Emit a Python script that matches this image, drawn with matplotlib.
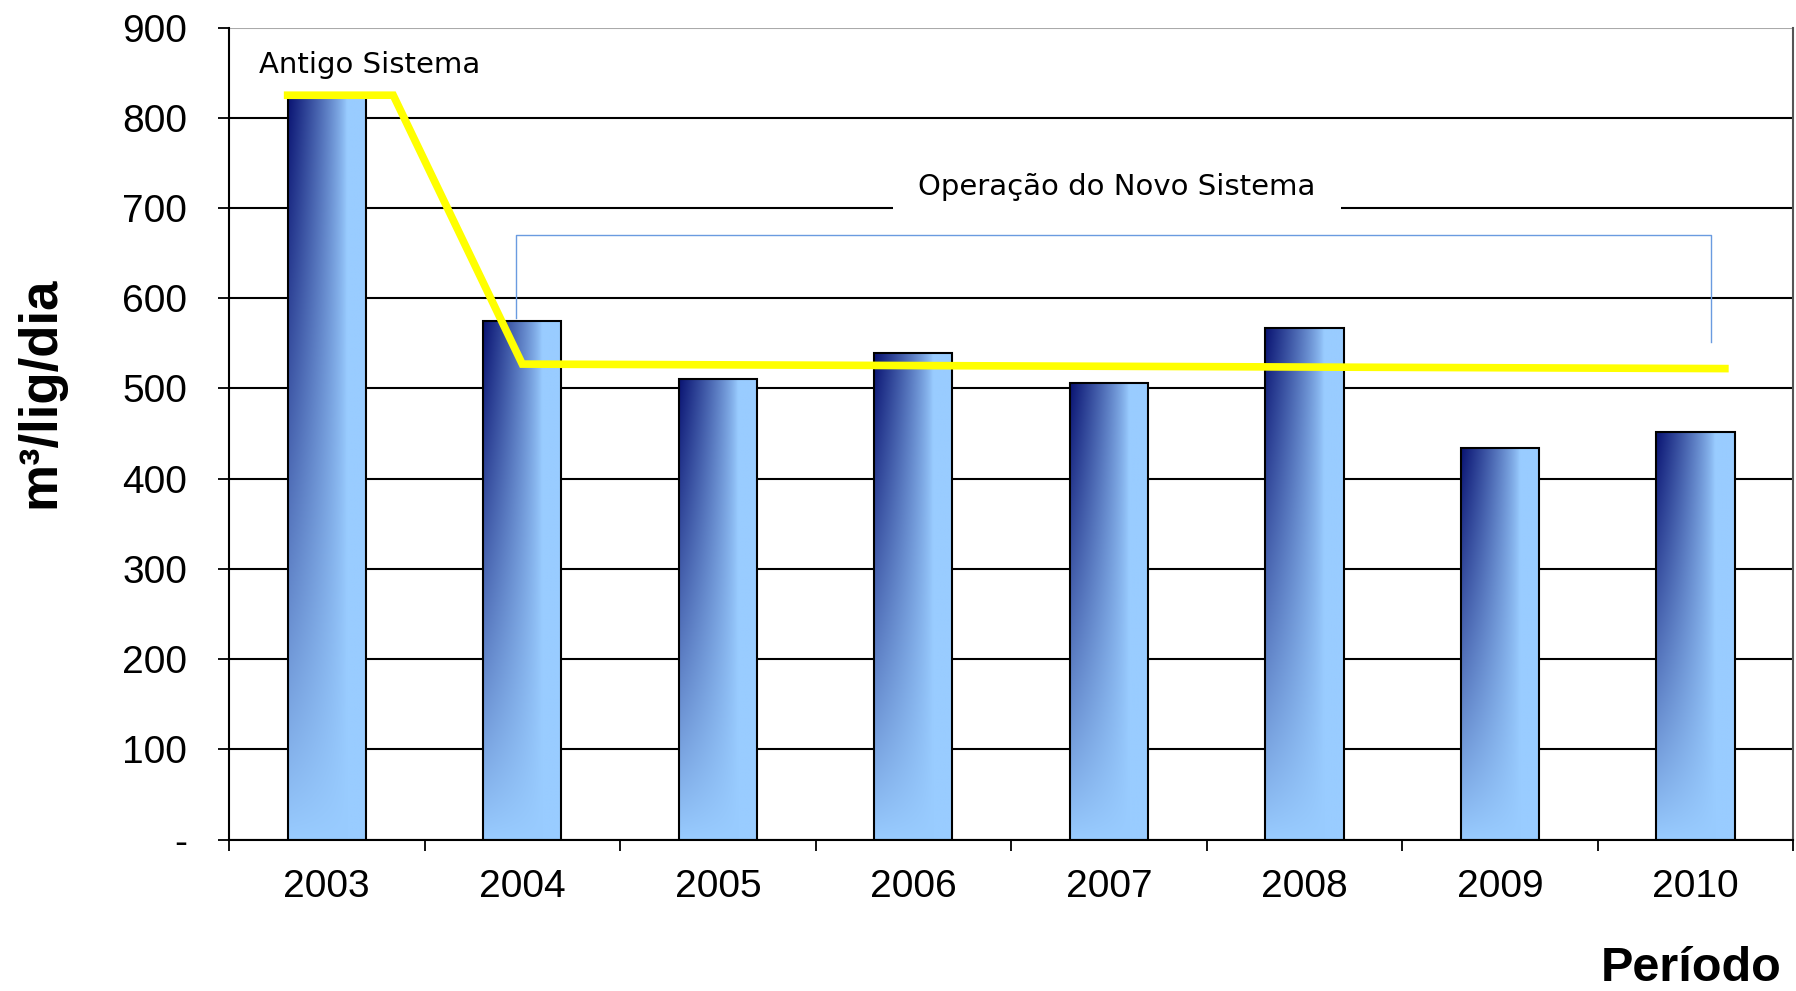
import matplotlib
matplotlib.use("Agg")
import matplotlib.pyplot as plt
import numpy as np

# data
years = ["2003", "2004", "2005", "2006", "2007", "2008", "2009", "2010"]
consumo = [826, 575, 511, 539, 506, 567, 434, 452]

# yellow reference line (old system level, then new system level)
linha_x = [-0.2, 0.34, 1.0, 7.15]
linha_y = [825, 825, 527, 522]

# bracket "Operação do Novo Sistema"
colchete_x = [0.97, 0.97, 7.08, 7.08]
colchete_y = [578, 670, 670, 552]

yticks = [0, 100, 200, 300, 400, 500, 600, 700, 800, 900]
ytick_labels = ["-", "100", "200", "300", "400", "500", "600", "700", "800", "900"]

plt.rcParams['font.family'] = ['Liberation Sans', 'DejaVu Sans']

fig = plt.figure(figsize=(17.96, 9.91), dpi=100)
ax = fig.add_axes([0.1275, 0.1528, 0.871, 0.8194])

x = np.arange(len(years))
largura = 0.4

# gradient image for bars: dark navy on the left/top, light blue at the bottom
escuro = np.array([0.04, 0.08, 0.45])
claro = np.array([0.60, 0.80, 1.00])
u = np.linspace(0, 1, 60)
v = np.linspace(0, 1, 200)
U, V = np.meshgrid(u, v)
w = np.clip(1 - U / 0.75, 0, 1) ** 0.8 * V ** 0.9
img = claro[None, None, :] * (1 - w[..., None]) + escuro[None, None, :] * w[..., None]

barras = ax.bar(x, consumo, width=largura, color="none", edgecolor="black",
                linewidth=1.5, zorder=3)
for b in barras:
    x0 = b.get_x()
    h = b.get_height()
    im = ax.imshow(img, extent=[x0, x0 + largura, 0, h], origin="lower",
                   aspect="auto", zorder=2, interpolation="bilinear")
    im.set_clip_path(b)

ax.plot(linha_x, linha_y, color="#ffff00", linewidth=5.5, zorder=5,
        solid_joinstyle="miter")
ax.plot(colchete_x, colchete_y, color="#6a9be0", linewidth=1.0, zorder=4)

ax.text(-0.345, 859, "Antigo Sistema", fontsize=21, family="DejaVu Sans",
        va="center", ha="left", zorder=6)
ax.text(4.04, 723, "Operação do Novo Sistema", fontsize=21, family="DejaVu Sans",
        va="center", ha="center", zorder=6,
        bbox=dict(facecolor="white", edgecolor="none", pad=18))

ax.set_xlim(-0.5, 7.5)
ax.set_ylim(0, 900)
ax.set_yticks(yticks)
ax.set_yticklabels(ytick_labels)
ax.yaxis.grid(True, color="black", linewidth=1.5, zorder=0)
ax.set_axisbelow(True)
ax.get_ygridlines()[-1].set_color("#aaaaaa")

ax.set_xticks(np.arange(-0.5, 8, 1))
ax.set_xticklabels([])
ax.set_xticks(x, minor=True)
ax.set_xticklabels(years, minor=True)
ax.tick_params(axis="x", which="major", length=8, width=1.3, direction="out")
ax.tick_params(axis="x", which="minor", length=0, pad=21, labelsize=28)
ax.tick_params(axis="y", length=8, width=1.3, pad=22, labelsize=28)

for s in ["left", "bottom", "right"]:
    ax.spines[s].set_color("black")
    ax.spines[s].set_linewidth(1.5)
ax.spines["right"].set_color("#555555")
ax.spines["top"].set_visible(False)

fig.text(0.0225, 0.604, "m³/lig/dia", rotation=90, fontsize=38,
         fontweight="bold", ha="center", va="center")
fig.text(0.9917, 0.023, "Período", fontsize=35, fontweight="bold",
         ha="right", va="center")

fig.savefig("out.png", dpi=100)
